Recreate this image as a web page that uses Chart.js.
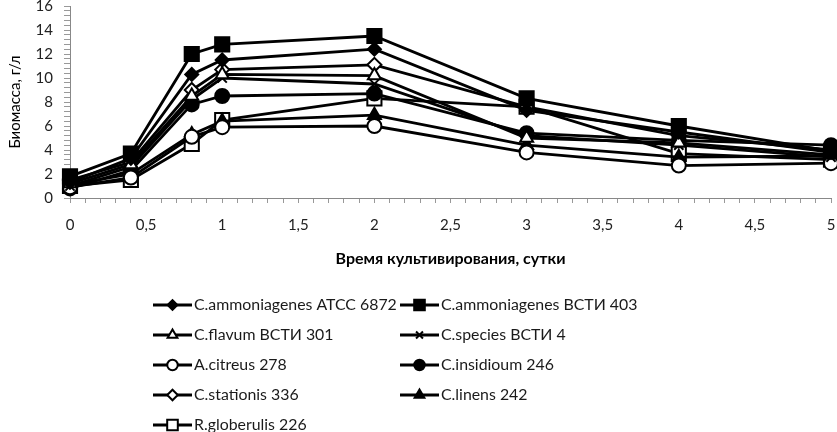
<!DOCTYPE html>
<html>
<head>
<meta charset="utf-8">
<script src="https://cdn.jsdelivr.net/npm/chart.js@4"></script>
<style>
  html, body { margin: 0; padding: 0; background: #fff; }
  #wrap { width: 837px; height: 432px; }
</style>
</head>
<body>
<div id="wrap"><canvas id="c" width="837" height="432"></canvas></div>
<script>
// ---- data ----
const days = [0, 0.4, 0.8, 1, 2, 3, 4, 5];
const seriesNames = [
  'C.ammoniagenes ATCC 6872',
  'C.ammoniagenes ВСТИ 403',
  'C.flavum ВСТИ 301',
  'C.species ВСТИ 4',
  'A.citreus 278',
  'C.insidioum 246',
  'C.stationis 336',
  'C.linens 242',
  'R.globerulis 226'
];
const ammoniagenesATCC = [1.3, 3.3, 10.3, 11.5, 12.4, 7.3, 5.5, 3.8];
const ammoniagenesVSTI = [1.8, 3.7, 12.0, 12.8, 13.5, 8.3, 6.0, 3.9];
const flavum           = [1.2, 2.8, 8.5, 10.3, 10.2, 5.0, 4.6, 3.6];
const species          = [1.0, 2.6, 8.2, 10.0, 9.5, 5.2, 4.4, 3.4];
const citreus          = [0.9, 1.7, 5.1, 5.9, 6.0, 3.8, 2.7, 2.9];
const insidioum        = [0.8, 2.3, 7.8, 8.5, 8.7, 5.4, 4.8, 4.4];
const stationis        = [1.5, 3.0, 9.0, 10.7, 11.1, 7.6, 5.2, 4.0];
const linens           = [1.1, 2.0, 5.3, 6.4, 6.9, 4.4, 3.4, 3.5];
const globerulis       = [1.0, 1.5, 4.5, 6.5, 8.3, 7.6, 3.7, 3.2];
const xTitle = 'Время культивирования, сутки';
const yTitle = 'Биомасса, г/л';

// ---- styles ----
const seriesValues = [ammoniagenesATCC, ammoniagenesVSTI, flavum, species, citreus, insidioum, stationis, linens, globerulis];
const markers = [
  {style: 'rectRot', r: 6.5, fill: '#000'},
  {style: 'rect', r: 10, fill: '#000'},
  {style: 'triangle', r: 7.5, fill: '#fff'},
  {style: 'crossRot', r: 6.5, fill: '#000'},
  {style: 'circle', r: 7, fill: '#fff'},
  {style: 'circle', r: 7, fill: '#000'},
  {style: 'rectRot', r: 7, fill: '#fff'},
  {style: 'triangle', r: 7.5, fill: '#000'},
  {style: 'rect', r: 10, fill: '#fff'}
];
const FONT = 'Lato, "Open Sans", sans-serif';

const datasets = seriesNames.map((name, i) => ({
  label: name,
  data: days.map((d, j) => ({x: d, y: seriesValues[i][j]})),
  borderColor: '#000',
  borderWidth: 2.8,
  tension: 0,
  clip: false,
  pointStyle: markers[i].style,
  pointRadius: markers[i].r,
  pointHoverRadius: markers[i].r,
  pointBackgroundColor: markers[i].fill,
  pointBorderColor: '#000',
  pointBorderWidth: 2,
  fill: false
}));

const legendPlugin = {
  id: 'colLegend',
  afterDraw(chart) {
    const ctx = chart.ctx;
    ctx.save();
    const target = 203;
    ctx.font = '100px ' + FONT;
    const w100 = ctx.measureText(seriesNames[0]).width;
    const fs = Math.min(17, 100 * target / w100);
    ctx.font = fs + 'px ' + FONT;
    ctx.textBaseline = 'middle';
    ctx.textAlign = 'left';
    const cols = [{lx: 153, tx: 194}, {lx: 400, tx: 441}];
    seriesNames.forEach((name, i) => {
      const col = cols[i % 2];
      const y = 305 + Math.floor(i / 2) * 30;
      ctx.strokeStyle = '#000';
      ctx.lineWidth = 2.8;
      ctx.beginPath();
      ctx.moveTo(col.lx, y);
      ctx.lineTo(col.lx + 39, y);
      ctx.stroke();
      ctx.fillStyle = markers[i].fill;
      ctx.strokeStyle = '#000';
      ctx.lineWidth = 2;
      Chart.helpers.drawPoint(ctx, {pointStyle: markers[i].style, radius: markers[i].r * 0.75, rotation: 0, borderWidth: 2}, col.lx + 19.5, y);
      ctx.fillStyle = '#1a1a1a';
      ctx.fillText(name, col.tx, y);
    });
    ctx.restore();
  }
};

new Chart(document.getElementById('c'), {
  type: 'line',
  data: {datasets},
  plugins: [legendPlugin],
  options: {
    responsive: false,
    animation: false,
    devicePixelRatio: 1,
    layout: {autoPadding: false, padding: {left: 0, right: 6, top: 6, bottom: 162}},
    plugins: {legend: {display: false}, tooltip: {enabled: false}},
    scales: {
      x: {
        type: 'linear',
        min: 0, max: 5,
        afterFit: s => { s.height = 72; s.paddingLeft = 0; s.paddingRight = 0; },
        border: {color: '#888', width: 1},
        grid: {drawOnChartArea: false, drawTicks: true, tickLength: 5, color: '#999'},
        ticks: {
          stepSize: 0.1, maxTicksLimit: 100, autoSkip: false, maxRotation: 0, padding: 13,
          color: '#222', font: {family: FONT, size: 15},
          callback: v => Math.abs(v * 2 - Math.round(v * 2)) < 1e-6 ? String(Math.round(v * 2) / 2).replace('.', ',') : ''
        },
        title: {display: true, text: xTitle, color: '#000', font: {family: FONT, size: 16, weight: 'bold'}, padding: {top: 0, bottom: 2}}
      },
      y: {
        min: 0, max: 16,
        afterFit: s => { s.width = 70; s.paddingTop = 0; s.paddingBottom = 0; },
        border: {color: '#888', width: 1},
        grid: {drawOnChartArea: false, drawTicks: true, tickLength: 6, color: '#999'},
        ticks: {
          stepSize: 0.4, maxTicksLimit: 100, autoSkip: false, padding: 11,
          color: '#222', font: {family: FONT, size: 15, lineHeight: 1},
          callback: v => Math.abs(v / 2 - Math.round(v / 2)) < 1e-6 ? String(Math.round(v)) : ''
        },
        title: {display: true, text: yTitle, color: '#000', font: {family: FONT, size: 15}, padding: {top: 6, bottom: 0}}
      }
    }
  }
});
</script>
</body>
</html>
